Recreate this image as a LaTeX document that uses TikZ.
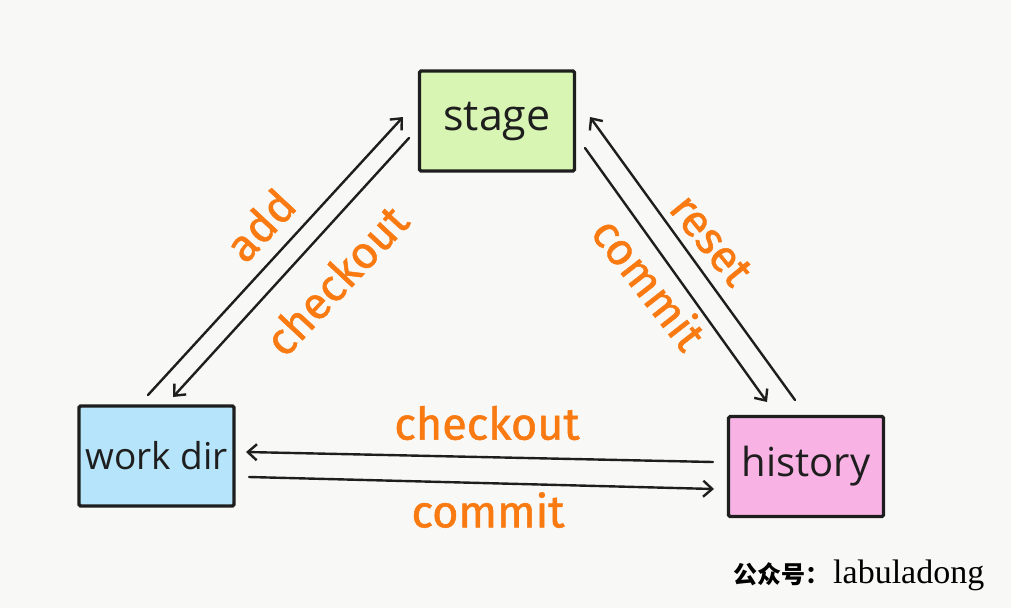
\documentclass[tikz,border=0pt]{standalone}
\usepackage{fontspec}
\setmainfont{Open Sans}
\newfontfamily\labelfont[FakeBold=1.2]{Fira Sans}
\newfontfamily\cjk{Noto Sans CJK SC}
\newfontfamily\wmlatin{Liberation Serif}
\usetikzlibrary{arrows.meta,calc}
\definecolor{bgc}{HTML}{F8F8F6}
\definecolor{stagec}{HTML}{D8F5B4}
\definecolor{workc}{HTML}{B6E4FA}
\definecolor{histc}{HTML}{F9B2E4}
\definecolor{edgec}{HTML}{1E1E1E}
\definecolor{lblc}{HTML}{FA7A12}
\tikzset{
  boxnode/.style={draw=edgec, line width=3.2pt, rounded corners=1.5pt, inner sep=0pt,
    minimum width=155pt, minimum height=100pt, text=edgec},
  conn/.style={draw=edgec, line width=2.4pt, line cap=round,
    -{Straight Barb[length=9pt,width=16pt,line width=2.4pt]}},
  oplabel/.style={text=lblc, font=\labelfont\fontsize{45}{50}\selectfont, inner sep=0pt},
}
\begin{document}
\begin{tikzpicture}[x=1pt,y=-1pt]
\fill[bgc] (0,0) rectangle (1011,608);
\useasboundingbox (0,0) rectangle (1011,608);

\node[boxnode, fill=stagec, font=\fontsize{43}{48}\selectfont] (stage) at (497,121) {stage};
\node[boxnode, fill=workc, font=\fontsize{37}{42}\selectfont] (work) at (156.5,456) {work dir};
\node[boxnode, fill=histc, font=\fontsize{40}{45}\selectfont] (hist) at (806,466.5) {history};

% arrow end points
\coordinate (addA) at (148,395);
\coordinate (addB) at (403,117);
\coordinate (coA) at (409,138);
\coordinate (coB) at (173,397);
\coordinate (cmA) at (585,148);
\coordinate (cmB) at (767,402);
\coordinate (rsA) at (795,400);
\coordinate (rsB) at (590,117);
\coordinate (hcA) at (713,462);
\coordinate (hcB) at (246,452);
\coordinate (wcA) at (249,477);
\coordinate (wcB) at (714,489);

\draw[conn] (addA) -- (addB);
\draw[conn] (coA) -- (coB);
\draw[conn] (cmA) -- (cmB);
\draw[conn] (rsA) -- (rsB);
\draw[conn] (hcA) -- (hcB);
\draw[conn] (wcA) -- (wcB);

\node[oplabel, rotate=47] (ladd) at (260,225) {add};
\node[oplabel, rotate=47] (lco1) at (336,280) {checkout};
\node[oplabel, rotate=-51] (lrs) at (711,240) {reset};
\node[oplabel, rotate=-52] (lcm1) at (650,283) {commit};
\node[oplabel] (lco2) at (487,423) {checkout};
\node[oplabel] (lcm2) at (488,510) {commit};

\node[anchor=west, inner sep=0pt, text=black] (wm) at (733,575)
  {{\cjk\bfseries\fontsize{24}{28}\selectfont 公众号：}\hspace{4pt}{\wmlatin\fontsize{34}{38}\selectfont labuladong}};
\end{tikzpicture}
\end{document}
